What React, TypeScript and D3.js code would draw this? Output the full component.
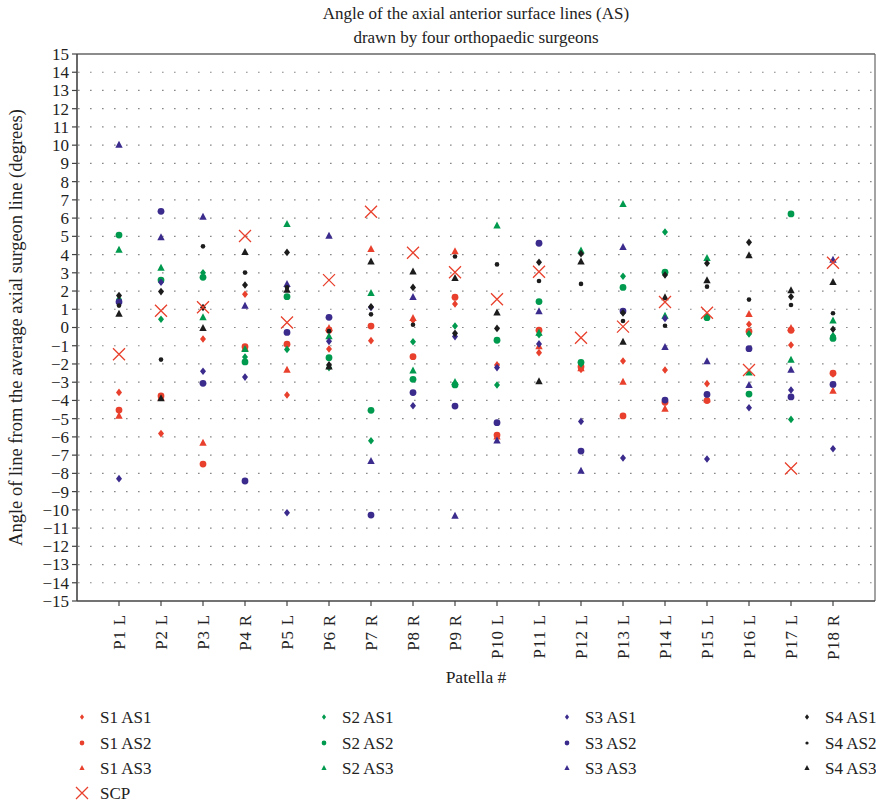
import React from "react";
import * as d3 from "d3";

const patellas = ["P1 L","P2 L","P3 L","P4 R","P5 L","P6 R","P7 R","P8 R","P9 R","P10 L","P11 L","P12 L","P13 L","P14 L","P15 L","P16 L","P17 L","P18 R"];
const yTicks = d3.range(-15, 16);

const s1as1 = [-3.56,-5.82,-0.63,1.82,-3.7,-1.18,-0.72,0.4,1.29,-2.05,-1.38,-2.3,-1.84,-2.33,-3.08,0.18,-0.96,-2.55];
const s1as2 = [-4.53,-3.75,-7.49,-1.05,-0.92,-0.15,0.08,-1.6,1.66,-5.9,-0.15,-2.15,-4.85,-4.1,-4.01,-0.22,-0.15,-2.51];
const s1as3 = [-4.86,-3.85,-6.34,-1.15,-2.33,-0.05,4.29,0.5,4.16,-6.0,-1.05,-2.25,-2.99,-4.47,-3.95,0.72,-0.05,-3.48];
const s2as1 = [1.55,0.45,3.0,-1.62,-1.2,-2.2,-6.21,-0.78,0.08,-3.15,-0.4,-2.0,2.81,5.24,0.6,-0.35,-5.04,-0.45];
const s2as2 = [5.07,2.6,2.75,-1.89,1.69,-1.66,-4.54,-2.84,-3.15,-0.7,1.42,-1.91,2.2,3.03,0.54,-3.65,6.23,-0.6];
const s2as3 = [4.25,3.26,0.54,-1.2,5.66,-0.5,1.87,-2.37,-3.0,5.58,-0.3,4.2,6.76,0.63,3.79,-2.48,-1.78,0.37];
const s3as1 = [-8.29,2.48,-2.4,-2.72,-10.16,-0.76,1.1,-4.29,-0.5,-2.2,-0.9,-5.15,-7.16,0.5,-7.21,-4.4,-3.43,-6.65];
const s3as2 = [1.4,6.37,-3.06,-8.42,-0.27,0.56,-10.29,-3.57,-4.31,-5.22,4.62,-6.78,0.9,-3.98,-3.67,-1.16,-3.81,-3.12];
const s3as3 = [10.0,4.93,6.06,1.18,2.37,5.02,-7.34,1.66,-10.34,-6.21,0.87,-7.87,4.4,-1.09,-1.87,-3.17,-2.33,3.7];
const s4as1 = [1.75,1.97,1.1,2.33,4.12,-2.05,1.14,2.2,-0.32,-0.05,3.58,4.05,0.8,2.88,3.52,4.67,1.69,-0.1];
const s4as2 = [1.2,-1.76,4.45,3.01,2.2,-0.2,0.72,0.15,3.89,3.46,2.55,2.39,0.36,0.1,2.24,1.53,1.23,0.78];
const s4as3 = [0.74,-3.9,-0.05,4.12,2.06,-2.15,3.61,3.06,2.7,0.81,-2.97,3.61,-0.8,1.64,2.57,3.94,2.02,2.48];
const scp = [-1.47,0.92,1.11,5.02,0.27,2.6,6.35,4.1,3.03,1.55,3.06,-0.56,0.05,1.4,0.81,-2.33,-7.73,3.55];

const RED = "#e8402c";
const GREEN = "#009a4e";
const PURPLE = "#3a2b8c";
const BLACK = "#1c1c1c";

type Shape = "diamond" | "circle" | "triangle" | "dot";
const seriesList: { name: string; values: number[]; color: string; shape: Shape }[] = [
  { name: "S1 AS1", values: s1as1, color: RED, shape: "diamond" },
  { name: "S1 AS2", values: s1as2, color: RED, shape: "circle" },
  { name: "S1 AS3", values: s1as3, color: RED, shape: "triangle" },
  { name: "S2 AS1", values: s2as1, color: GREEN, shape: "diamond" },
  { name: "S2 AS2", values: s2as2, color: GREEN, shape: "circle" },
  { name: "S2 AS3", values: s2as3, color: GREEN, shape: "triangle" },
  { name: "S3 AS1", values: s3as1, color: PURPLE, shape: "diamond" },
  { name: "S3 AS2", values: s3as2, color: PURPLE, shape: "circle" },
  { name: "S3 AS3", values: s3as3, color: PURPLE, shape: "triangle" },
  { name: "S4 AS1", values: s4as1, color: BLACK, shape: "diamond" },
  { name: "S4 AS2", values: s4as2, color: BLACK, shape: "dot" },
  { name: "S4 AS3", values: s4as3, color: BLACK, shape: "triangle" },
];

function Marker({ shape, color, x, y, k = 1 }: { shape: Shape; color: string; x: number; y: number; k?: number }) {
  if (shape === "circle") return <circle cx={x} cy={y} r={3.4 * k} fill={color} />;
  if (shape === "dot") return <circle cx={x} cy={y} r={2.3 * k} fill={color} />;
  if (shape === "diamond")
    return <path transform={`translate(${x},${y}) scale(${k})`} d="M0,-3.8L3,0L0,3.8L-3,0Z" fill={color} />;
  return <path transform={`translate(${x},${y}) scale(${k})`} d="M0,-4.3L3.7,2.7L-3.7,2.7Z" fill={color} />;
}

function Cross({ x, y, s = 6 }: { x: number; y: number; s?: number }) {
  return (
    <path d={`M${x - s},${y - s}L${x + s},${y + s}M${x - s},${y + s}L${x + s},${y - s}`} stroke={RED} strokeWidth={1.3} fill="none" />
  );
}

export default function App() {
  const W = 876, H = 804;
  const left = 77, right = 875, top = 54, bottom = 601;
  const x = d3.scaleLinear().domain([0, patellas.length + 1]).range([left, right]);
  const y = d3.scaleLinear().domain([-15, 15]).range([bottom, top]);
  const font = "'Liberation Serif', 'DejaVu Serif', serif";
  const axisColor = "#444";
  const txt = "#222";

  const legendCols = [82, 324, 567, 807];
  const legendRows = [717, 743, 768, 793];

  return (
    <div>
      <style>{"body{margin:0}"}</style>
      <svg width={W} height={H} style={{ display: "block", fontFamily: font }}>
        <rect width={W} height={H} fill="#fff" />
        <text x={(left + right) / 2} y={19} textAnchor="middle" fontSize={17} fill={txt}>
          Angle of the axial anterior surface lines (AS)
        </text>
        <text x={(left + right) / 2} y={43} textAnchor="middle" fontSize={17} fill={txt}>
          drawn by four orthopaedic surgeons
        </text>

        {/* grid */}
        {yTicks.filter((t) => t > -15 && t < 15).map((t) => (
          <line key={"g" + t} x1={left + 1} x2={right} y1={y(t)} y2={y(t)} stroke="#888" strokeWidth={1.2} strokeDasharray="1.6,10.4" />
        ))}

        {/* frame */}
        <line x1={left} x2={right} y1={top} y2={top} stroke="#666" strokeWidth={1.6} />
        <line x1={right} x2={right} y1={top} y2={bottom} stroke="#666" strokeWidth={1.2} />
        <line x1={left} x2={left} y1={top} y2={bottom} stroke={axisColor} strokeWidth={1.6} />
        <line x1={left} x2={right} y1={bottom} y2={bottom} stroke={axisColor} strokeWidth={1.6} />

        {/* y ticks */}
        {yTicks.map((t) => (
          <g key={"y" + t}>
            <line x1={left - 5} x2={left} y1={y(t)} y2={y(t)} stroke={axisColor} strokeWidth={1.2} />
            <text x={left - 8} y={y(t)} dy="0.35em" textAnchor="end" fontSize={17} fill={txt}>
              {t < 0 ? "\u2212" + Math.abs(t) : String(t)}
            </text>
          </g>
        ))}

        {/* x ticks */}
        {patellas.map((p, i) => (
          <g key={p}>
            <line x1={x(i + 1)} x2={x(i + 1)} y1={bottom} y2={bottom + 5} stroke={axisColor} strokeWidth={1.2} />
            <text
              transform={`translate(${x(i + 1)},${bottom + 13}) rotate(-90)`}
              textAnchor="end"
              dy="0.35em"
              fontSize={17}
              letterSpacing={0.8}
              fill={txt}
            >
              {p}
            </text>
          </g>
        ))}

        <text x={(left + right) / 2} y={683} textAnchor="middle" fontSize={17.5} fill={txt}>
          Patella #
        </text>
        <text
          transform={`translate(22,${(top + bottom) / 2}) rotate(-90)`}
          textAnchor="middle"
          fontSize={18.5}
          fill={txt}
        >
          Angle of line from the average axial surgeon line (degrees)
        </text>

        {/* data */}
        {seriesList.map((s) => (
          <g key={s.name}>
            {s.values.map((v, i) => (
              <Marker key={i} shape={s.shape} color={s.color} x={x(i + 1)} y={y(v)} />
            ))}
          </g>
        ))}
        {scp.map((v, i) => (
          <Cross key={"c" + i} x={x(i + 1)} y={y(v)} />
        ))}

        {/* legend */}
        {seriesList.map((s, idx) => {
          const col = Math.floor(idx / 3);
          const row = idx % 3;
          const lx = legendCols[col];
          const ly = legendRows[row];
          return (
            <g key={"l" + s.name}>
              <Marker shape={s.shape} color={s.color} x={lx} y={ly} k={0.7} />
              <text x={lx + 18} y={ly} dy="0.35em" fontSize={17} fill={txt}>
                {s.name}
              </text>
            </g>
          );
        })}
        <Cross x={legendCols[0]} y={legendRows[3]} s={6} />
        <text x={legendCols[0] + 18} y={legendRows[3]} dy="0.35em" fontSize={17} fill={txt}>
          SCP
        </text>
      </svg>
    </div>
  );
}
